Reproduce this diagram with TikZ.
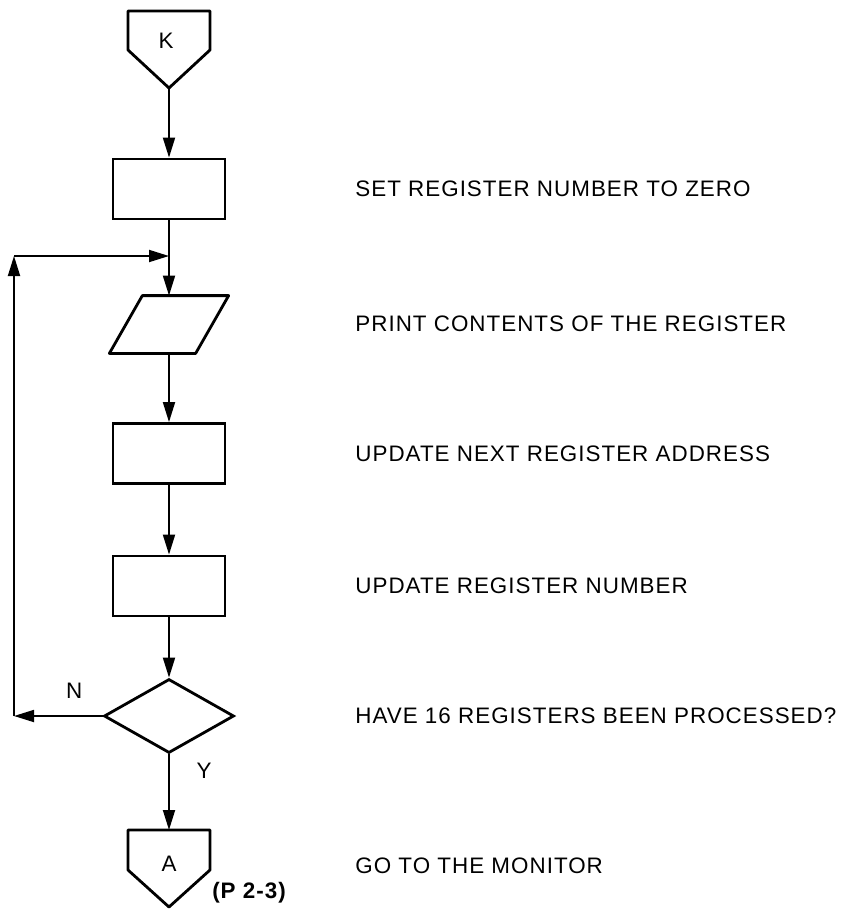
\documentclass[tikz,border=0pt]{standalone}
\usepackage{fontspec}
\setmainfont{Liberation Sans}[LetterSpace=4.5]
\usepackage{tikz}
\usetikzlibrary{positioning,shapes.geometric,arrows.meta}
\newcommand{\lbl}{\fontsize{11.2}{13.5}\selectfont}

\begin{document}
\begin{tikzpicture}[x=0.5pt,y=-0.5pt,
	box/.style={draw,line width=1.4pt,minimum width=56pt,minimum height=30pt,inner sep=0pt},
	io/.style={minimum width=42.75pt,minimum height=28.5pt,inner sep=0pt},
	test/.style={diamond,draw,line width=1.4pt,aspect=1.76,minimum width=65pt,minimum height=37pt,inner sep=0pt},
	offpage/.style={line width=1.4pt,line join=round},
	note/.style={anchor=west,font=\lbl,inner sep=0pt},
	conn/.style={-{Triangle[length=10pt,width=6pt]},line width=0.9pt}]
	\useasboundingbox (0,0) rectangle (847,911);

	% off-page connectors
	\draw[offpage] (128,11) -- (210,11) -- (210,50) -- (169,88) -- (128,50) -- cycle;
	\node[font=\lbl] (k) at (166,41) {K};
	\coordinate (kt) at (169,88);
	\draw[offpage] (128,830) -- (210,830) -- (210,870) -- (169,907) -- (128,870) -- cycle;
	\node[font=\lbl] (a) at (169,864) {A};
	\coordinate (at) at (169,830);
	\node[font=\lbl\bfseries,inner sep=0pt] (pg) at (249,893) {(P 2-3)};

	% steps
	\node[box] (zero) at (169,189) {};
	\node[io] (print) at (169,324.5) {};
	\draw[offpage] ([xshift=8.25pt]print.north west) -- ([xshift=8.25pt]print.north east)
		-- ([xshift=-8.25pt]print.south east) -- ([xshift=-8.25pt]print.south west) -- cycle;
	\node[box] (addr) at (169,453.5) {};
	\node[box] (num) at (169,586) {};
	\node[test] (done) at (169,716) {};

	% loop corners
	\coordinate (lb) at (14,716);
	\coordinate (lt) at (14,256);
	\coordinate (jn) at (169,256);

	\path[conn]
	(kt) edge (zero)
	(zero) edge (print)
	(print) edge (addr)
	(addr) edge (num)
	(num) edge (done)
	(done) edge node[pos=0.22,right=10pt,font=\lbl] {Y} (at)
	(done) edge node[pos=0.32,above=5pt,font=\lbl] {N} (lb)
	(lb) edge (lt)
	(lt) edge (jn);

	% comments
	\node[note] (t1) at (355,189) {SET REGISTER NUMBER TO ZERO};
	\node[note] (t2) at (355,324) {PRINT CONTENTS OF THE REGISTER};
	\node[note] (t3) at (355,454) {UPDATE NEXT REGISTER ADDRESS};
	\node[note] (t4) at (355,586) {UPDATE REGISTER NUMBER};
	\node[note] (t5) at (355,716) {HAVE 16 REGISTERS BEEN PROCESSED?};
	\node[note] (t6) at (355,866) {GO TO THE MONITOR};
\end{tikzpicture}
\end{document}
